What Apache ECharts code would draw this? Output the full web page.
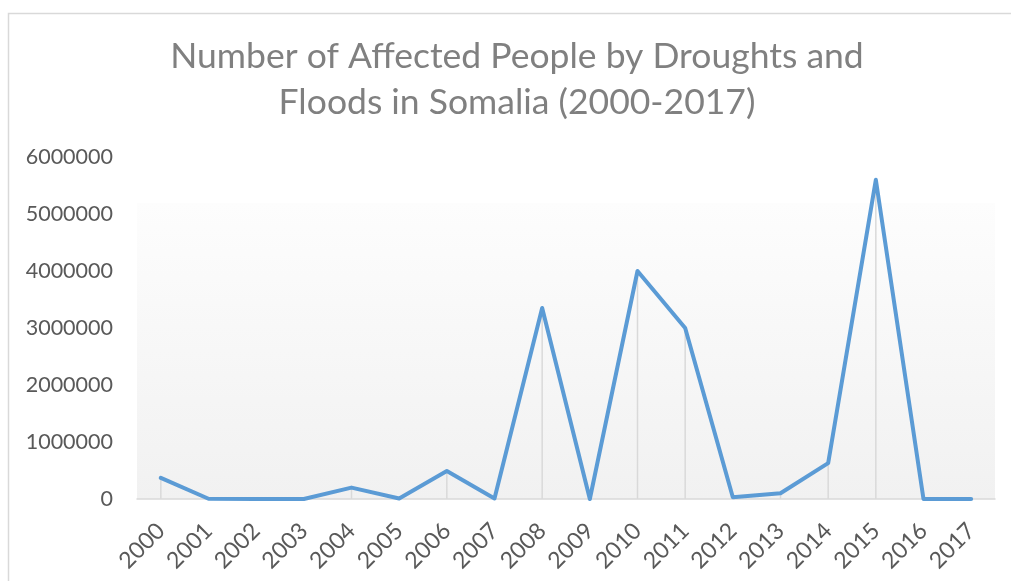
<!DOCTYPE html>
<html>
<head>
<meta charset="utf-8">
<script src="https://cdn.jsdelivr.net/npm/echarts@6/dist/echarts.min.js"></script>
<style>
  html, body { margin: 0; padding: 0; background: #ffffff; }
  #chart { width: 1011px; height: 581px; }
</style>
</head>
<body>
<div id="chart"></div>
<script>
// Years on the category axis
const years = ['2000', '2001', '2002', '2003', '2004', '2005', '2006', '2007', '2008',
               '2009', '2010', '2011', '2012', '2013', '2014', '2015', '2016', '2017'];

// Number of people affected by droughts and floods, per year
const affected = [370000, 5000, 0, 0, 200000, 10000, 490000, 10000, 3350000,
                  0, 4000000, 3000000, 30000, 100000, 630000, 5600000, 0, 0];

const titleLines = ['Number of Affected People by Droughts and', 'Floods in Somalia (2000-2017)'];

const FONT = 'Lato, "Open Sans", sans-serif';
const chart = echarts.init(document.getElementById('chart'), null, { renderer: 'canvas' });

chart.setOption({
  animation: false,
  backgroundColor: '#ffffff',
  graphic: [
    {
      // chart frame
      type: 'rect',
      z: -10,
      silent: true,
      shape: { x: 8.5, y: 13.5, width: 1200, height: 800 },
      style: { fill: null, stroke: '#d9d9d9', lineWidth: 1.5 }
    },
    {
      type: 'text',
      x: 517,
      y: 34,
      style: {
        text: titleLines.join('\n'),
        font: '35.5px ' + FONT,
        fill: '#808080',
        textAlign: 'center',
        textVerticalAlign: 'top',
        lineHeight: 46
      }
    }
  ],
  grid: {
    left: 137, right: 16, top: 157, bottom: 82,
    containLabel: false,
    outerBoundsMode: 'none',
    show: true,
    borderWidth: 0,
    backgroundColor: {
      type: 'linear', x: 0, y: 0, x2: 0, y2: 1,
      colorStops: [
        { offset: 0, color: '#ffffff' },
        { offset: 0.134, color: '#ffffff' },
        { offset: 0.135, color: '#fdfdfd' },
        { offset: 1, color: '#f1f1f1' }
      ]
    }
  },
  xAxis: {
    type: 'category',
    data: years,
    boundaryGap: true,
    axisLine: { show: true, lineStyle: { color: '#d9d9d9', width: 1.5 } },
    axisTick: { show: false },
    axisLabel: {
      rotate: 45,
      interval: 0,
      margin: 28,
      color: '#595959',
      fontSize: 23,
      fontFamily: FONT
    },
    splitLine: { show: false }
  },
  yAxis: {
    type: 'value',
    min: 0,
    max: 6000000,
    interval: 1000000,
    axisLine: { show: false },
    axisTick: { show: false },
    splitLine: { show: false },
    axisLabel: {
      margin: 24,
      color: '#595959',
      fontSize: 21.5,
      fontFamily: FONT,
      formatter: (v) => String(v)
    }
  },
  series: [
    {
      // drop lines from each point down to the axis
      type: 'bar',
      data: affected,
      barWidth: 1.5,
      itemStyle: { color: '#d9d9d9' },
      silent: true,
      z: 1
    },
    {
      type: 'line',
      data: affected,
      showSymbol: false,
      symbol: 'none',
      lineStyle: { color: '#5b9bd5', width: 4, cap: 'round', join: 'round' },
      z: 3
    }
  ]
});
</script>
</body>
</html>
